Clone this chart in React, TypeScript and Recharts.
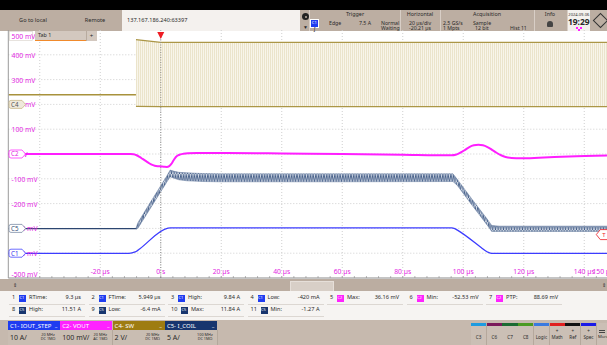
import React from "react";
import {
  ComposedChart, Line, Area, XAxis, YAxis, CartesianGrid,
  ReferenceLine, ReferenceDot
} from "recharts";

const FONT = '"Noto Sans", "Open Sans", Arial, sans-serif';
const MAG = "#e21ee2";

// time axis, µs (screen spans -50.4 .. 149.6)
const timeDomain = [-50.4, 149.6];
const timeTicks = [
  -48, -44, -40, -36, -32, -28, -24, -20, -16, -12, -8, -4, 0, 4, 8, 12, 16, 20,
  24, 28, 32, 36, 40, 44, 48, 52, 56, 60, 64, 68, 72, 76, 80, 84, 88, 92, 96, 100,
  104, 108, 112, 116, 120, 124, 128, 132, 136, 140, 144, 148, 149.6,
];
const timeLabelAt = [-20, 0, 20, 40, 60, 80, 100, 120, 140, 149.6];
const timeLabels = ["-20 µs", "0 s", "20 µs", "40 µs", "60 µs", "80 µs", "100 µs", "120 µs", "140 µs", "150 µs"];
const gridTimes = [-40, -20, 0, 20, 40, 60, 80, 100, 120, 140];

// vertical axis (screen mV)
const voltTicks = [500, 400, 300, 200, 100, 0, -100, -200, -300, -400, -500];
const voltLabels = ["500 mV", "400 mV", "300 mV", "200 mV", "100 mV", "0 mV", "-100 mV", "-200 mV", "-300 mV", "-400 mV", "-500 mV"];
const gridVolts = [400, 300, 200, 100, 0, -100, -200, -300, -400];

// C2 VOUT
const c2Time = [-50.4, -10, -9, -8, -7, -6, -5, -4, -3, -2, -1, 0, 1, 2, 2.8, 3.5, 4.2, 5, 6, 7.5, 9, 12, 20, 40, 60, 80, 96.2,
  97.5, 99, 100.5, 102, 103.5, 105, 106.5, 108, 109.5, 111, 112.5, 114, 116, 119, 125, 135, 149.6];
const c2Mv = [0, 0, -1, -5, -12, -20, -28, -36, -43, -47, -49, -50, -51, -52, -49, -40, -26, -12, -4, 1, 3, 4, 4, 2, 0, -3, -5,
  -3, 5, 16, 28, 35, 37, 35, 28, 17, 5, -5, -12, -16, -17, -15, -10, -6];

// C1 IOUT_STEP
const c1Time = [-50.4, -11, -10, -9, -8, -7, 2.4, 3.2, 96.2, 97.2, 98.2, 106, 107.2, 108.3, 109.4, 149.6];
const c1Mv = [-401, -401, -400, -397, -392, -383, -299, -298, -298, -301, -308, -378, -389, -397, -401, -401];

// C5 I_COIL: quiet part, then ripple envelope
const c5QuietTime = [-50.4, -8.2];
const c5QuietMv = [-301, -301];
const c5Time = [-8.2, -7.5, -4, 0, 2, 3.1, 4.5, 6, 8.7, 14, 19.6, 60, 96.6, 98, 103, 108, 109.4, 112, 149.6];
const c5Low = [-304, -298, -230, -152, -113, -92, -98, -104, -108, -111, -112, -112, -111, -126, -208, -288, -312, -312, -312];
const c5High = [-299, -276, -206, -128, -89, -65, -70, -74, -76, -79, -80, -80, -80, -102, -184, -264, -288, -291, -291];

// C4 SW: idle level, then switching envelope
const c4IdleTime = [-50.4, -8.2];
const c4IdleMv = [239, 239];
const c4Time = [-8.2, 0, 149.6];
const c4Low = [192, 191, 191];
const c4High = [461, 450, 450];

const c2Data = c2Time.map((t, i) => ({ t, v: c2Mv[i] }));
const c1Data = c1Time.map((t, i) => ({ t, v: c1Mv[i] }));
const c5QuietData = c5QuietTime.map((t, i) => ({ t, v: c5QuietMv[i] }));
const c5Data = c5Time.map((t, i) => ({ t, r: [c5Low[i], c5High[i]] }));
const c4IdleData = c4IdleTime.map((t, i) => ({ t, v: c4IdleMv[i] }));
const c4Data = c4Time.map((t, i) => ({ t, r: [c4Low[i], c4High[i]] }));

const markers: Record<number, { name: string; stroke: string; fill: string; color: string }> = {
  200: { name: "C4", stroke: "#c9b98a", fill: "#efe9dc", color: "#555" },
  0: { name: "C2", stroke: "#ff33ff", fill: "#fff", color: "#e020e0" },
  [-300]: { name: "C5", stroke: "#7d8fa8", fill: "#fff", color: "#34507a" },
  [-400]: { name: "C1", stroke: "#4a4aff", fill: "#fff", color: "#3030ee" },
};

const VoltTick = (props: any) => {
  const { y, payload } = props;
  const v = payload.value;
  const label = voltLabels[voltTicks.indexOf(v)];
  let ty = y + 3;
  if (v === 500) ty = y + 8.5;
  if (v === -500) ty = y - 1.5;
  const m = markers[v];
  return (
    <g>
      {v === 500 && <rect x={9.5} y={y + 1.5} width={23} height={9} fill="#fff" stroke="#d8d0c8" strokeWidth={0.6} />}
      <text x={11.5} y={ty} fontSize={6.8} fill={MAG} fontFamily={FONT}>{label}</text>
      {m && (
        <g>
          <path
            d={`M11,${y - 4} H22 L25.5,${y} L22,${y + 4} H11 Q9,${y + 4} 9,${y + 2} V${y - 2} Q9,${y - 4} 11,${y - 4} Z`}
            fill={m.fill} stroke={m.stroke} strokeWidth={0.8}
          />
          <text x={11} y={y + 2.3} fontSize={6.2} fill={m.color} fontFamily={FONT}>{m.name}</text>
        </g>
      )}
    </g>
  );
};

const TimeTick = (props: any) => {
  const { x, y, payload } = props;
  const v = payload.value;
  const idx = timeLabelAt.indexOf(v);
  const isEdge = v === timeDomain[1];
  return (
    <g>
      {!isEdge && <line x1={x} y1={y} x2={x} y2={y - 2} stroke="#8a8a8a" strokeWidth={0.6} />}
      {idx >= 0 && (
        <text x={x} y={y - 4.5} fontSize={6.8} fill={MAG} fontFamily={FONT}
          textAnchor={isEdge ? "end" : "middle"}>{timeLabels[idx]}</text>
      )}
    </g>
  );
};

const TrigArrow = (props: any) => (
  <path d={`M${props.cx - 3.5},${props.cy + 2} L${props.cx + 3.5},${props.cy + 2} L${props.cx},${props.cy + 9} Z`} fill="#ee1c24" />
);

const TrigLevel = (props: any) => {
  const x = props.cx - 17;
  const y = props.cy;
  return (
    <g>
      <path d={`M${x},${y} L${x + 4},${y - 5} H${x + 20} V${y + 5} H${x + 4} Z`} fill="#fff" stroke="#ee1c24" strokeWidth={0.8} />
      <text x={x + 6} y={y + 2.3} fontSize={6} fill="#ee1c24" fontFamily={FONT}>T</text>
    </g>
  );
};

const T = ({ x, y, s = 5.6, c = "#2a2a2a", center = false, bold = false, children }: any) => (
  <div style={{
    position: "absolute", left: x, top: y, fontSize: s, color: c, whiteSpace: "nowrap", lineHeight: 1,
    transform: center ? "translate(-50%, -50%)" : "translateY(-50%)", fontWeight: bold ? 700 : 400,
  }}>{children}</div>
);

const Box = ({ x, y, w, h, bg, style }: any) => (
  <div style={{ position: "absolute", left: x, top: y, width: w, height: h, background: bg, ...style }} />
);

const chColors: Record<string, string> = { C1: "#1f3cf0", C2: "#ff22ff", C4: "#9e7c12", C5: "#17356e" };

const measRow1 = [
  { n: "1", ch: "C1", name: "RTime:", val: "9.3 µs" },
  { n: "2", ch: "C1", name: "FTime:", val: "5.949 µs" },
  { n: "3", ch: "C1", name: "High:", val: "9.84 A" },
  { n: "4", ch: "C1", name: "Low:", val: "-420 mA" },
  { n: "5", ch: "C2", name: "Max:", val: "36.16 mV" },
  { n: "6", ch: "C2", name: "Min:", val: "-52.53 mV" },
  { n: "7", ch: "C2", name: "PTP:", val: "88.69 mV" },
];
const measRow2 = [
  { n: "8", ch: "C5", name: "High:", val: "11.51 A" },
  { n: "9", ch: "C5", name: "Low:", val: "-6.4 mA" },
  { n: "10", ch: "C5", name: "Max:", val: "11.84 A" },
  { n: "11", ch: "C5", name: "Min:", val: "-1.27 A" },
];

const badges = [
  { title: "C1- IOUT_STEP", scale: "10 A/", bw: "20 MHz", cpl: "DC 1MΩ", color: "#1f3cf0" },
  { title: "C2- VOUT", scale: "100 mV/", bw: "20 MHz", cpl: "AC 1MΩ", color: "#ff22ff" },
  { title: "C4- SW", scale: "2 V/", bw: "20 MHz", cpl: "DC 1MΩ", color: "#9e7c12" },
  { title: "C5- I_COIL", scale: "5 A/", bw: "100 MHz", cpl: "DC 1MΩ", color: "#17356e" },
];

const buttons = [
  { label: "C3", color: "#1e9be0" },
  { label: "C6", color: "#7a1a5a" },
  { label: "C7", color: "#1b6a32" },
  { label: "C8", color: "#4b9a22" },
  { label: "Logic", color: "#3a7ae0" },
  { label: "Math", color: "#e02020", plus: true },
  { label: "Ref", color: "#111111", plus: true },
  { label: "Spec", color: "#1a1ae8", plus: true },
];

function MeasCell({ m, x, y }: any) {
  const off = m.n.length > 1 ? 3 : 0;
  return (
    <>
      <Box x={x} y={y + 6} w={76} h={0.7} bg="#dcd7d2" />
      <T x={x + 3} y={y} s={5.6}>{m.n}</T>
      <Box x={x + 10 + off} y={y - 3.5} w={7} h={7} bg={chColors[m.ch]} />
      <T x={x + 10.5 + off} y={y} s={4} c="#fff">{m.ch}</T>
      <T x={x + 20 + off} y={y} s={5.6}>{m.name}</T>
      <div style={{ position: "absolute", left: x, width: 72, top: y, transform: "translateY(-50%)", textAlign: "right", fontSize: 5.6, lineHeight: 1, color: "#2a2a2a", whiteSpace: "nowrap" }}>{m.val}</div>
    </>
  );
}

export default function App() {
  return (
    <div style={{ position: "absolute", left: 0, top: 0, width: 607, height: 345, overflow: "hidden", background: "#fff", fontFamily: FONT }}>
      <svg width={0} height={0} style={{ position: "absolute" }}>
        <defs>
          <pattern id="swHatch" x={0} y={0} width={2} height={4} patternUnits="userSpaceOnUse">
            <rect width={2} height={4} fill="#f8f5ea" />
            <line x1={0.5} y1={0} x2={0.5} y2={4} stroke="#e3d9b6" strokeWidth={0.6} />
          </pattern>
          <pattern id="ripple" x={0} y={0} width={2.7} height={8} patternUnits="userSpaceOnUse">
            <rect width={2.7} height={8} fill="#d5dce7" />
            <path d="M0,0 L1.35,8 L2.7,0" fill="none" stroke="#36527e" strokeWidth={0.85} />
          </pattern>
        </defs>
      </svg>

      {/* top bar */}
      <Box x={0} y={0} w={607} h={10} bg="#000" />
      <Box x={0} y={10} w={607} h={21} bg="#bcaea2" />
      <T x={33} y={20.5} center>Go to local</T>
      <T x={95} y={20.5} center>Remote</T>
      <Box x={122} y={10} w={178} h={21} bg="#f4f1ee" />
      <T x={127} y={20.5}>137.167.186.240:63397</T>
      <Box x={302} y={13} w={7} h={7} bg="#222" style={{ borderRadius: "50%" }} />
      <Box x={304.5} y={15.5} w={2} h={2} bg="#bcaea2" style={{ borderRadius: "50%" }} />
      <T x={305.5} y={26.5} s={5} center>▼</T>
      {[309, 400, 440, 534, 567].map((x) => <Box key={x} x={x} y={10} w={0.8} h={21} bg="#d8cec6" />)}
      <T x={355} y={14.5} s={5.4} center>Trigger</T>
      <Box x={311} y={20} w={7} h={6.5} bg="#1f3cf0" style={{ outline: "0.6px solid #fff" }} />
      <T x={311.8} y={23.3} s={4.2} c="#fff">C1</T>
      <T x={314.5} y={29} s={6} center>ʃ</T>
      <T x={329} y={23.5} s={5.2}>Edge</T>
      <T x={359} y={23.5} s={5.2}>7.5 A</T>
      <T x={381} y={23.5} s={5.2}>Normal</T>
      <T x={381} y={29} s={5.2}>Waiting</T>
      <T x={420} y={14.5} s={5.4} center>Horizontal</T>
      <T x={420} y={23.5} s={5.2} center>20 µs/div</T>
      <T x={420} y={29} s={5.2} center>-20.21 µs</T>
      <T x={487} y={14.5} s={5.4} center>Acquisition</T>
      <T x={443} y={23.5} s={5.2}>2.5 GS/s</T>
      <T x={473} y={23.5} s={5.2}>Sample</T>
      <T x={443} y={29} s={5.2}>1 Mpts</T>
      <T x={475} y={29} s={5.2}>12 bit</T>
      <T x={510} y={29} s={5.2}>Hist 11</T>
      <T x={550} y={14.5} s={5.4} center>Info</T>
      <Box x={547} y={21} w={6} h={6} bg="#444" style={{ borderRadius: "3px 3px 1px 1px" }} />
      <Box x={567.8} y={10} w={22} h={21} bg="#f4f1ee" />
      <T x={578.8} y={14.5} s={4} center>2024-09-06</T>
      <T x={578.8} y={21.5} s={8.5} center bold>19:29</T>
      <Box x={576} y={26.5} w={2} h={2} bg="#ff22ff" />
      <Box x={580} y={26.5} w={2} h={2} bg="#ff22ff" />
      <Box x={578} y={28.5} w={2} h={2} bg="#ff22ff" />
      <Box x={595} y={15} w={9} h={9} bg="transparent" style={{ border: "1px solid #333", transform: "rotate(45deg)" }} />

      {/* plot */}
      <div style={{ position: "absolute", left: 0, top: 30 }}>
        <ComposedChart width={616} height={258} margin={{ top: 0, right: 2.7, bottom: 0, left: 8.3 }}>
          <CartesianGrid
            stroke="#cfcfcf" strokeDasharray="1 2"
            verticalValues={gridTimes} horizontalValues={gridVolts}
          />
          <XAxis
            dataKey="t" type="number" domain={timeDomain} allowDataOverflow
            ticks={timeTicks} interval={0} height={10} tickSize={0} tickMargin={0}
            axisLine={{ stroke: "#8a8a8a" }} tickLine={false} tick={<TimeTick />}
          />
          <YAxis
            type="number" domain={[-500, 500]} allowDataOverflow ticks={voltTicks} interval={0}
            mirror width={30} axisLine={{ stroke: "#9a9a9a" }} tickLine={false} tick={<VoltTick />}
          />
          <ReferenceLine x={0} stroke="#8c8c8c" strokeDasharray="1 1.5" />
          <Line data={c4IdleData} dataKey="v" stroke="#a8923c" strokeWidth={1.4} dot={false} isAnimationActive={false} />
          <Area data={c4Data} dataKey="r" stroke="#ab9646" strokeWidth={1.2} fill="url(#swHatch)" fillOpacity={1} isAnimationActive={false} />
          <Line data={c2Data} dataKey="v" type="monotone" stroke="#ff1eff" strokeWidth={2} dot={false} isAnimationActive={false} />
          <Line data={c5QuietData} dataKey="v" stroke="#2c4670" strokeWidth={1.3} dot={false} isAnimationActive={false} />
          <Area data={c5Data} dataKey="r" stroke="#5a7298" strokeWidth={0.5} fill="url(#ripple)" fillOpacity={1} isAnimationActive={false} />
          <Line data={c1Data} dataKey="v" type="monotone" stroke="#3c3cff" strokeWidth={1.3} dot={false} isAnimationActive={false} />
          <ReferenceDot x={0} y={500} r={0} shape={<TrigArrow />} ifOverflow="visible" />
          <ReferenceDot x={149.6} y={-325} r={0} shape={<TrigLevel />} ifOverflow="visible" />
        </ComposedChart>
      </div>

      {/* tab */}
      <Box x={35} y={31} w={62} h={10} bg="#d3c8bf" />
      <Box x={35} y={40.2} w={51} h={0.8} bg="#f08a2c" />
      <Box x={86} y={31} w={0.6} h={10} bg="#b8ab9f" />
      <T x={38} y={36} s={5.4}>Tab 1</T>
      <T x={91.5} y={36} s={6} center>+</T>

      {/* scroll bar */}
      <Box x={0} y={279} w={607} h={12} bg="#bbada1" />
      <Box x={290} y={280.5} w={42} h={9} bg="#d8cfc7" style={{ border: "0.5px solid #e6dfd9" }} />
      <T x={15} y={285} s={5} center>⇕</T>
      <T x={604} y={285} s={5} center>⇕</T>
      <Box x={0} y={291} w={607} h={29} bg="#f6f4f2" />

      {/* measurements */}
      {measRow1.map((m, i) => <MeasCell key={m.n} m={m} x={9 + i * 79.5} y={298} />)}
      {measRow2.map((m, i) => <MeasCell key={m.n} m={m} x={9 + i * 79.5} y={310} />)}

      {/* channel badges */}
      <Box x={0} y={320} w={607} h={25} bg="#c6b9ae" />
      {badges.map((b, i) => {
        const x = 8 + i * 52.3;
        return (
          <React.Fragment key={b.title}>
            <Box x={x} y={321} w={52} h={9} bg={b.color} />
            <T x={x + 2} y={325.8} s={6} c="#fff">{b.title}</T>
            <T x={x + 47} y={325} s={5} c="#fff">_</T>
            <Box x={x} y={330} w={52} h={15} bg="#c9bdb2" style={{ borderRight: "0.6px solid #b4a89c" }} />
            <T x={x + 2} y={337} s={7}>{b.scale}</T>
            <T x={x + 40} y={334.5} s={3.8} center>{b.bw}</T>
            <T x={x + 40} y={339} s={3.8} center>{b.cpl}</T>
          </React.Fragment>
        );
      })}
      {buttons.map((b, i) => {
        const x = 471 + i * 15.7;
        return (
          <React.Fragment key={b.label}>
            <Box x={x} y={323} w={15.2} h={22} bg="#cbbfb5" style={{ borderRight: "0.6px solid #b5a89c" }} />
            <Box x={x} y={323} w={15.2} h={2.5} bg={b.color} />
            {b.plus && <T x={x + 7.6} y={331} s={4.5} center>+</T>}
            <T x={x + 7.6} y={336.5} s={4.6} center>{b.label}</T>
          </React.Fragment>
        );
      })}
      <Box x={596.6} y={323} w={11} h={22} bg="#cbbfb5" />
      <Box x={599} y={330} w={6} h={1} bg="#444" />
      <Box x={599} y={332} w={6} h={1} bg="#444" />
      <T x={598} y={337} s={4.2}>More</T>
    </div>
  );
}
